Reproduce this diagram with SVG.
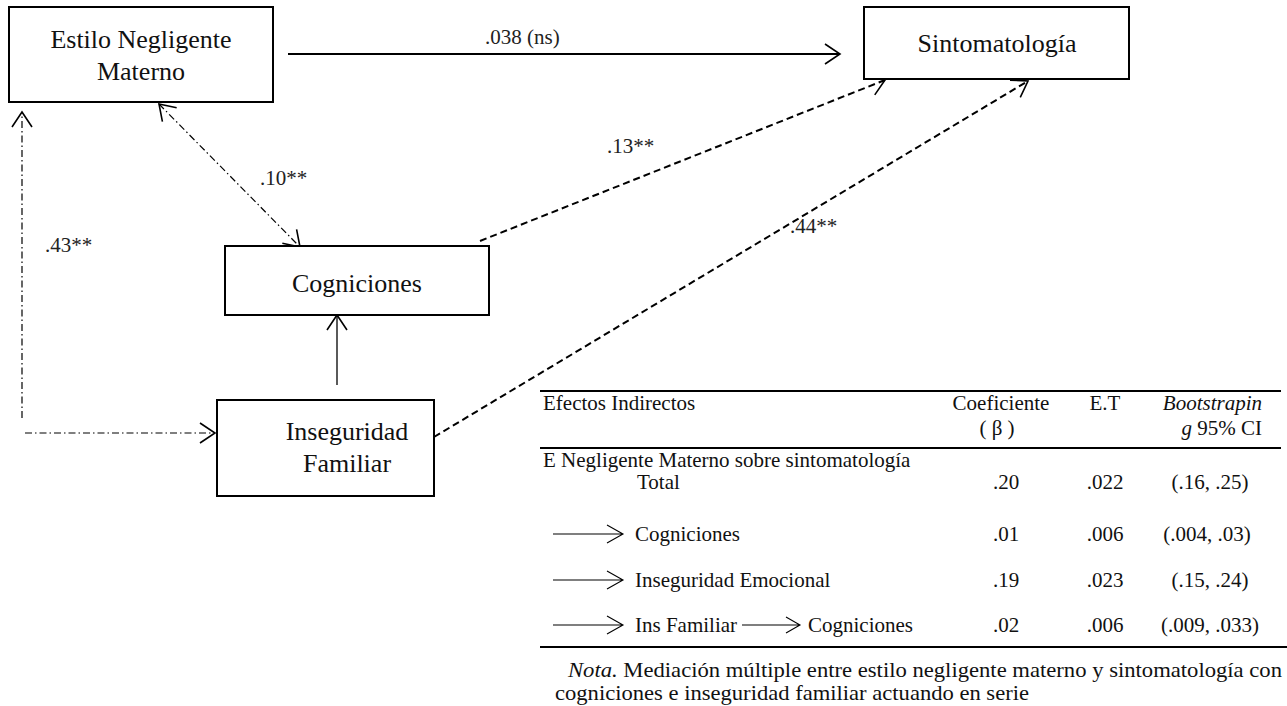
<svg xmlns="http://www.w3.org/2000/svg" width="1287" height="706" viewBox="0 0 1287 706">
  <style>
    .box { fill: #fff; stroke: #000; stroke-width: 2; }
    .node-text { font-family: "Liberation Serif", "Times New Roman", serif; font-size: 26px; fill: #111; text-anchor: middle; }
    .lbl { font-family: "Liberation Serif", "Times New Roman", serif; font-size: 21px; fill: #222; }
    .tbl { font-family: "Liberation Serif", "Times New Roman", serif; font-size: 21px; fill: #111; }
    .mid { text-anchor: middle; }
    .end { text-anchor: end; }
    .it { font-style: italic; }
    .solid { fill: none; stroke: #000; stroke-width: 2; }
    .thin { fill: none; stroke: #000; stroke-width: 1.3; }
    .dashed { fill: none; stroke: #000; stroke-width: 2; stroke-dasharray: 7 4; }
    .dashdot { fill: none; stroke: #000; stroke-width: 1.2; stroke-dasharray: 7 3 1.5 3; }
    .rule { stroke: #000; stroke-width: 2; }
    .mini { fill: none; stroke: #000; stroke-width: 1.1; }
  </style>
  <defs>
    <marker id="open" markerUnits="userSpaceOnUse" viewBox="-17 -12 19 24" markerWidth="19" markerHeight="24" refX="0" refY="0" orient="auto-start-reverse">
      <path d="M-15,-10 L0,0 L-15,10" fill="none" stroke="#000" stroke-width="1.6" stroke-dasharray="none"/>
    </marker>
  </defs>

  <rect width="1287" height="706" fill="#fff"/>

  <!-- connectors -->
  <g id="connectors">
    <line class="solid" x1="288" y1="54" x2="840" y2="54" marker-end="url(#open)"/>
    <line class="dashed" x1="480" y1="241" x2="885" y2="80" marker-end="url(#open)"/>
    <line class="dashed" x1="434" y1="437" x2="1028" y2="81" marker-end="url(#open)"/>
    <line class="thin" x1="337" y1="385" x2="337" y2="315" marker-end="url(#open)"/>
    <line class="dashdot" x1="159" y1="104" x2="300" y2="247" marker-start="url(#open)" marker-end="url(#open)"/>
    <line class="dashdot" x1="22" y1="418" x2="22" y2="112" marker-end="url(#open)"/>
    <line class="dashdot" x1="25" y1="433" x2="215" y2="433" marker-end="url(#open)"/>
  </g>

  <!-- path coefficients -->
  <g id="labels">
    <text class="lbl" x="485" y="44">.038 (ns)</text>
    <text class="lbl" x="607" y="153">.13**</text>
    <text class="lbl" x="790" y="233">.44**</text>
    <text class="lbl" x="260" y="185">.10**</text>
    <text class="lbl" x="45" y="252">.43**</text>
  </g>

  <!-- nodes -->
  <g id="node-estilo">
    <rect class="box" x="9" y="7" width="264" height="95"/>
    <text class="node-text" x="141" y="48">Estilo Negligente</text>
    <text class="node-text" x="141" y="80">Materno</text>
  </g>
  <g id="node-sintomatologia">
    <rect class="box" x="864" y="7" width="265" height="72"/>
    <text class="node-text" x="997" y="52">Sintomatología</text>
  </g>
  <g id="node-cogniciones">
    <rect class="box" x="225" y="246" width="264" height="69"/>
    <text class="node-text" x="357" y="292">Cogniciones</text>
  </g>
  <g id="node-inseguridad">
    <rect class="box" x="217" y="400" width="217" height="96"/>
    <text class="node-text" x="347" y="440">Inseguridad</text>
    <text class="node-text" x="347" y="472">Familiar</text>
  </g>

  <!-- indirect effects table -->
  <g id="table">
    <line class="rule" x1="540" y1="391" x2="1281" y2="391"/>
    <line class="rule" x1="540" y1="448" x2="1281" y2="448"/>
    <line class="rule" x1="540" y1="647" x2="1287" y2="647"/>

    <text class="tbl" x="543" y="410">Efectos Indirectos</text>
    <text class="tbl mid" x="1001" y="410">Coeficiente</text>
    <text class="tbl mid" x="997" y="435">( β )</text>
    <text class="tbl mid" x="1105" y="410">E.T</text>
    <text class="tbl end it" x="1262" y="410">Bootstrapin</text>
    <text class="tbl end" x="1262" y="435"><tspan class="it">g</tspan> 95% CI</text>

    <text class="tbl" x="543" y="467">E Negligente Materno sobre sintomatología</text>
    <text class="tbl" x="637" y="489">Total</text>
    <text class="tbl mid" x="1006" y="489">.20</text>
    <text class="tbl mid" x="1105" y="489">.022</text>
    <text class="tbl mid" x="1210" y="489">(.16, .25)</text>

    <path class="mini" d="M553,534 H623 M607,525 L623,534 L607,543"/>
    <text class="tbl" x="635" y="541">Cogniciones</text>
    <text class="tbl mid" x="1006" y="541">.01</text>
    <text class="tbl mid" x="1105" y="541">.006</text>
    <text class="tbl mid" x="1207" y="541">(.004, .03)</text>

    <path class="mini" d="M553,580 H623 M607,571 L623,580 L607,589"/>
    <text class="tbl" x="635" y="587">Inseguridad Emocional</text>
    <text class="tbl mid" x="1006" y="587">.19</text>
    <text class="tbl mid" x="1105" y="587">.023</text>
    <text class="tbl mid" x="1210" y="587">(.15, .24)</text>

    <path class="mini" d="M553,625 H623 M607,616 L623,625 L607,634"/>
    <text class="tbl" x="635" y="632">Ins Familiar</text>
    <path class="mini" d="M742,625 H800 M786,617 L800,625 L786,633"/>
    <text class="tbl" x="808" y="632">Cogniciones</text>
    <text class="tbl mid" x="1006" y="632">.02</text>
    <text class="tbl mid" x="1105" y="632">.006</text>
    <text class="tbl mid" x="1210" y="632">(.009, .033)</text>

    <text class="tbl" x="568" y="677" textLength="714" lengthAdjust="spacingAndGlyphs"><tspan class="it">Nota.</tspan> Mediación múltiple entre estilo negligente materno y sintomatología con</text>
    <text class="tbl" x="555" y="700" textLength="474" lengthAdjust="spacingAndGlyphs">cogniciones e inseguridad familiar actuando en serie</text>
  </g>
</svg>
